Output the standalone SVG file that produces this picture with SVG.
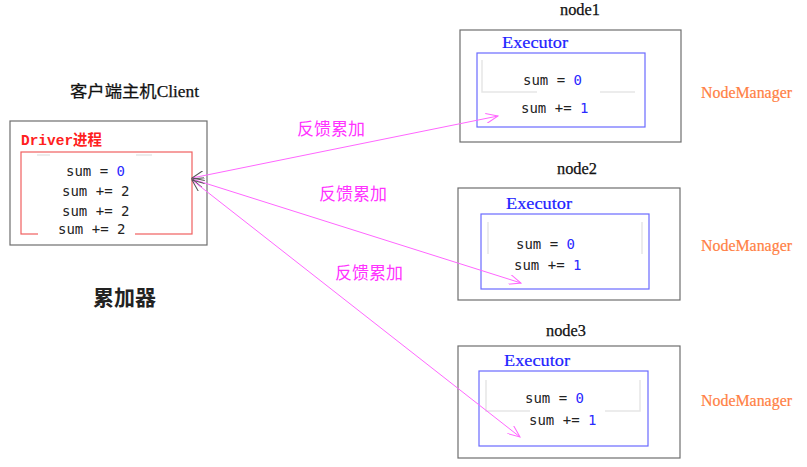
<svg xmlns="http://www.w3.org/2000/svg" width="807" height="467" viewBox="0 0 807 467">
<defs>
<style>
.outer{fill:none;stroke:#6e6e6e;stroke-width:1.2}
.drv{fill:none;stroke:#f06060;stroke-width:1.2}
.exe{fill:none;stroke:#6a6aff;stroke-width:1.2}
.faint{fill:none;stroke:#e6e6e6;stroke-width:1.5}
.code{font-family:"DejaVu Sans Mono","Liberation Mono",monospace;font-size:14px;fill:#222}
.num{fill:#2a2aff}
.ser{font-family:"Liberation Serif","Noto Sans CJK SC",serif;font-size:16px;fill:#111;stroke:#111;stroke-width:0.25}
.exet{font-family:"Liberation Serif",serif;font-size:16px;fill:#2222ff;stroke:#2222ff;stroke-width:0.2}
.nm{font-family:"Liberation Serif",serif;font-size:16px;fill:#ff7f45;stroke:#ff7f45;stroke-width:0.2}
.fb{font-family:"Noto Sans CJK SC",sans-serif;font-size:17px;fill:#ff33ff}
.conn{stroke:#ff66ff;stroke-width:1;fill:none}
</style>
<marker id="ah" viewBox="0 0 12 10" refX="12" refY="5" markerWidth="14" markerHeight="10" markerUnits="userSpaceOnUse" orient="auto">
<path d="M0,0 L12,5 L0,10" fill="none" stroke="#ff66ff" stroke-width="1"/>
</marker>
<marker id="as" viewBox="0 0 12 10" refX="0" refY="5" markerWidth="14" markerHeight="10" markerUnits="userSpaceOnUse" orient="auto">
<path d="M12,0 L0,5 L12,10" fill="none" stroke="#555" stroke-width="1"/>
</marker>
</defs>

<g id="client">
<text class="ser" x="70" y="97" textLength="129" lengthAdjust="spacingAndGlyphs">客户端主机Client</text>
<rect class="outer" x="10" y="121" width="197" height="124"/>
<text x="21" y="145" textLength="81" lengthAdjust="spacingAndGlyphs" style="font-family:'Liberation Mono','Noto Sans CJK SC',monospace;font-size:15px;fill:#ff2020;font-weight:bold">Driver进程</text>
<rect class="drv" x="21" y="152" width="171" height="82"/>
<path class="faint" d="M37,155 H50 M136,155 H152"/>
<rect x="38" y="229" width="97" height="9" fill="#fff"/>
<text class="code" x="66" y="176">sum = <tspan class="num">0</tspan></text>
<text class="code" x="62" y="196">sum += 2</text>
<text class="code" x="62" y="216">sum += 2</text>
<text class="code" x="58" y="234">sum += 2</text>
<text x="93" y="305" style="font-family:'Noto Sans CJK SC',sans-serif;font-size:21px;font-weight:bold;fill:#222">累加器</text>
</g>

<g id="node1">
<text class="ser" x="560" y="15" textLength="40" lengthAdjust="spacingAndGlyphs">node1</text>
<rect class="outer" x="460" y="30" width="221" height="112"/>
<text class="exet" x="502" y="48" textLength="66" lengthAdjust="spacingAndGlyphs">Executor</text>
<rect class="exe" x="477" y="53" width="168" height="74"/>
<path class="faint" d="M482,60 V92 H537 M600,92 H635"/>
<text class="code" x="523" y="85">sum = <tspan class="num">0</tspan></text>
<text class="code" x="521" y="113">sum += <tspan class="num">1</tspan></text>
<text class="nm" x="701" y="98" textLength="91" lengthAdjust="spacingAndGlyphs">NodeManager</text>
</g>

<g id="node2">
<text class="ser" x="557" y="174" textLength="40" lengthAdjust="spacingAndGlyphs">node2</text>
<rect class="outer" x="458" y="188" width="222" height="112"/>
<text class="exet" x="506" y="209" textLength="66" lengthAdjust="spacingAndGlyphs">Executor</text>
<rect class="exe" x="481" y="214" width="168" height="75"/>
<path class="faint" d="M488,222 V254 M642,222 V254"/>
<text class="code" x="516" y="249">sum = <tspan class="num">0</tspan></text>
<text class="code" x="514" y="270">sum += <tspan class="num">1</tspan></text>
<text class="nm" x="701" y="251" textLength="91" lengthAdjust="spacingAndGlyphs">NodeManager</text>
</g>

<g id="node3">
<text class="ser" x="546" y="336" textLength="40" lengthAdjust="spacingAndGlyphs">node3</text>
<rect class="outer" x="458" y="346" width="222" height="112"/>
<text class="exet" x="504" y="366" textLength="66" lengthAdjust="spacingAndGlyphs">Executor</text>
<rect class="exe" x="479" y="371" width="169" height="75"/>
<path class="faint" d="M486,380 V411 H530 M605,411 H640 V380"/>
<text class="code" x="525" y="403">sum = <tspan class="num">0</tspan></text>
<text class="code" x="529" y="425">sum += <tspan class="num">1</tspan></text>
<text class="nm" x="701" y="406" textLength="91" lengthAdjust="spacingAndGlyphs">NodeManager</text>
</g>

<g id="connectors">
<line class="conn" x1="192" y1="178" x2="498" y2="116" marker-start="url(#as)" marker-end="url(#ah)"/>
<line class="conn" x1="192" y1="179" x2="521" y2="283" marker-start="url(#as)" marker-end="url(#ah)"/>
<line class="conn" x1="192" y1="180" x2="520" y2="437" marker-start="url(#as)" marker-end="url(#ah)"/>
<text class="fb" x="297" y="135">反馈累加</text>
<text class="fb" x="319" y="200">反馈累加</text>
<text class="fb" x="335" y="279">反馈累加</text>
</g>
</svg>
